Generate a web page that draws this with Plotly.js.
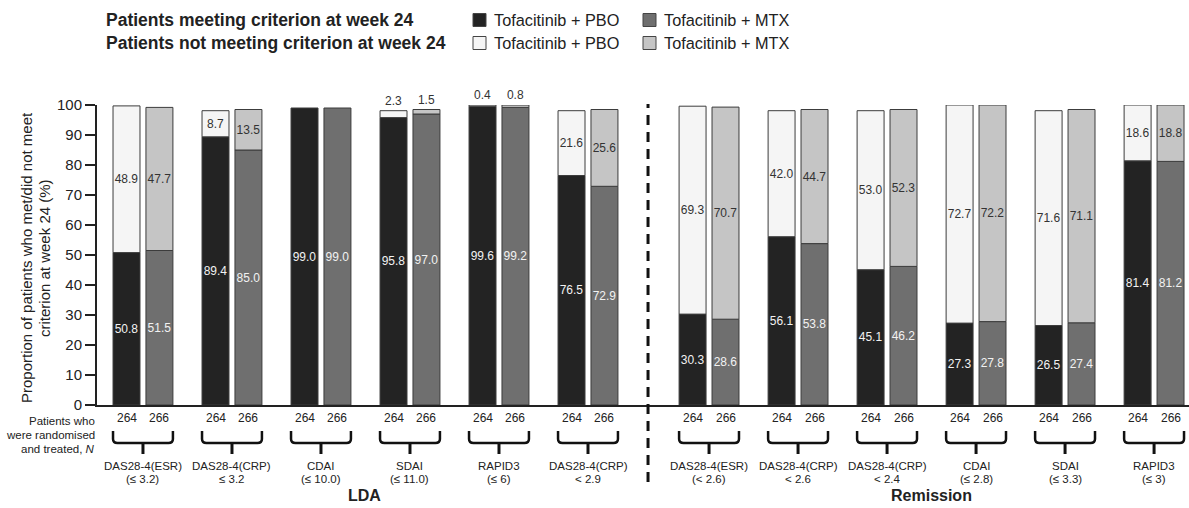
<!DOCTYPE html>
<html><head><meta charset="utf-8">
<script src="https://cdn.plot.ly/plotly-3.0.1.min.js"></script>
<style>html,body{margin:0;padding:0;background:#fff;}#chart{width:1189px;height:508px;}</style>
</head><body><div id="chart"></div>
<script>
// ---- data ----
const sections   = ['LDA','LDA','LDA','LDA','LDA','LDA','Remission','Remission','Remission','Remission','Remission','Remission'];
const criteria   = ['DAS28-4(ESR)','DAS28-4(CRP)','CDAI','SDAI','RAPID3','DAS28-4(CRP)','DAS28-4(ESR)','DAS28-4(CRP)','DAS28-4(CRP)','CDAI','SDAI','RAPID3'];
const thresholds = ['(≤ 3.2)','≤ 3.2','(≤ 10.0)','(≤ 11.0)','(≤ 6)','< 2.9','(< 2.6)','< 2.6','< 2.4','(≤ 2.8)','(≤ 3.3)','(≤ 3)'];
const pboMet     = [50.8, 89.4, 99.0, 95.8, 99.6, 76.5, 30.3, 56.1, 45.1, 27.3, 26.5, 81.4];
const pboNotMet  = [48.9,  8.7, null,  2.3,  0.4, 21.6, 69.3, 42.0, 53.0, 72.7, 71.6, 18.6];
const mtxMet     = [51.5, 85.0, 99.0, 97.0, 99.2, 72.9, 28.6, 53.8, 46.2, 27.8, 27.4, 81.2];
const mtxNotMet  = [47.7, 13.5, null,  1.5,  0.8, 25.6, 70.7, 44.7, 52.3, 72.2, 71.1, 18.8];
const nPbo       = [264, 264, 264, 264, 264, 264, 264, 264, 264, 264, 264, 264];
const nMtx       = [266, 266, 266, 266, 266, 266, 266, 266, 266, 266, 266, 266];

// ---- layout constants ----
const FONT = 'Liberation Sans, Arial, Helvetica, sans-serif';
const DARK = '#222222';
const C_PBO_MET = '#232323', C_MTX_MET = '#6f6f6f', C_PBO_NOT = '#f5f5f5', C_MTX_NOT = '#c5c5c5';
const SECTION_GAP = 0.36;
const BAR_W = 0.303, OFF_PBO = -0.331, OFF_MTX = 0.039;
const L = 97, R = 1189, T = 105, B = 405;
const px2x = px => (px - L) / (R - L);
const py2y = py => (B - py) / (B - T);

const xpos = sections.map((s, i) => i + (s === 'Remission' ? SECTION_GAP : 0));
const fmt = v => (v == null ? '' : v.toFixed(1));
const posFor = v => (v != null && v < 5 ? 'outside' : 'inside');

function barTrace(y, base, color, off, textColor, positions) {
  const t = {
    type: 'bar', x: xpos, y: y, offset: off, width: BAR_W,
    marker: {color: color, line: {color: '#3c3c3c', width: 1}},
    text: y.map(fmt), textposition: positions || 'inside', insidetextanchor: 'middle',
    textangle: 0, constraintext: 'none', cliponaxis: false,
    insidetextfont: {family: FONT, size: 12, color: textColor},
    outsidetextfont: {family: FONT, size: 12, color: '#333'},
    hoverinfo: 'skip'
  };
  if (base) t.base = base;
  return t;
}

const data = [
  barTrace(pboMet, null, C_PBO_MET, OFF_PBO, '#f2f2f2'),
  barTrace(mtxMet, null, C_MTX_MET, OFF_MTX, '#f2f2f2'),
  barTrace(pboNotMet, pboMet, C_PBO_NOT, OFF_PBO, '#333', pboNotMet.map(posFor)),
  barTrace(mtxNotMet, mtxMet, C_MTX_NOT, OFF_MTX, '#333', mtxNotMet.map(posFor))
];

const shapes = [];
const annotations = [];

// y-axis title (two lines)
annotations.push({xref:'paper', yref:'paper', x:px2x(26), y:py2y(258), text:'Proportion of patients who met/did not meet',
  textangle:-90, showarrow:false, xanchor:'center', yanchor:'middle', font:{family:FONT, size:15, color:DARK}});
annotations.push({xref:'paper', yref:'paper', x:px2x(44), y:py2y(258), text:'criterion at week 24 (%)',
  textangle:-90, showarrow:false, xanchor:'center', yanchor:'middle', font:{family:FONT, size:15, color:DARK}});

// N row label
[['Patients who',421],['were randomised',435],['and treated, <i>N</i>',449]].forEach(([t,py]) => {
  annotations.push({xref:'paper', yref:'paper', x:px2x(97), y:py2y(py), text:t, showarrow:false,
    xanchor:'right', yanchor:'middle', font:{family:FONT, size:11.5, color:DARK}});
});

xpos.forEach((p, i) => {
  const cP = p + OFF_PBO + BAR_W / 2, cM = p + OFF_MTX + BAR_W / 2;
  annotations.push({xref:'x', yref:'paper', x:cP, y:py2y(418), text:String(nPbo[i]), showarrow:false,
    xanchor:'center', yanchor:'middle', font:{family:FONT, size:12, color:DARK}});
  annotations.push({xref:'x', yref:'paper', x:cM, y:py2y(418), text:String(nMtx[i]), showarrow:false,
    xanchor:'center', yanchor:'middle', font:{family:FONT, size:12, color:DARK}});
  const xc = (p + OFF_PBO + p + OFF_MTX + BAR_W) / 2;
  annotations.push({xref:'x', yref:'paper', x:xc, y:py2y(466), text:criteria[i], showarrow:false,
    xanchor:'center', yanchor:'middle', font:{family:FONT, size:11.5, color:DARK}});
  annotations.push({xref:'x', yref:'paper', x:xc, y:py2y(479), text:thresholds[i], showarrow:false,
    xanchor:'center', yanchor:'middle', font:{family:FONT, size:11.5, color:DARK}});
  // bracket
  const xL = p + OFF_PBO, xR = p + OFF_MTX + BAR_W, r = 0.05;
  const yTop = py2y(431), yH = py2y(443), yC = py2y(439), yS = py2y(454);
  shapes.push({type:'path', xref:'x', yref:'paper', line:{color:'#111', width:2.5},
    path:`M ${xL},${yTop} L ${xL},${yC} Q ${xL},${yH} ${xL + r},${yH} L ${xR - r},${yH} Q ${xR},${yH} ${xR},${yC} L ${xR},${yTop}`});
  shapes.push({type:'line', xref:'x', yref:'paper', x0:xc, x1:xc, y0:yH, y1:yS, line:{color:'#111', width:3}});
});

// section labels
['LDA','Remission'].forEach(sec => {
  const ps = xpos.filter((_, i) => sections[i] === sec);
  const mid = ps.reduce((a, b) => a + b, 0) / ps.length;
  annotations.push({xref:'x', yref:'paper', x:mid, y:py2y(496), text:'<b>' + sec + '</b>', showarrow:false,
    xanchor:'center', yanchor:'middle', font:{family:FONT, size:16, color:DARK}});
});

// dashed separator
const firstRem = sections.indexOf('Remission');
const sepX = (xpos[firstRem - 1] + xpos[firstRem]) / 2;
shapes.push({type:'line', xref:'x', yref:'paper', x0:sepX, x1:sepX, y0:py2y(482), y1:py2y(104),
  line:{color:'#111', width:3, dash:'10px,7px'}});

// custom legend
const legendRows = [
  {title:'Patients meeting criterion at week 24', py:20, colors:[C_PBO_MET, C_MTX_MET]},
  {title:'Patients not meeting criterion at week 24', py:43, colors:[C_PBO_NOT, C_MTX_NOT]}
];
const legendLabels = ['Tofacitinib + PBO', 'Tofacitinib + MTX'];
const sqX = [473, 643], txX = [492, 662];
legendRows.forEach(row => {
  annotations.push({xref:'paper', yref:'paper', x:px2x(104), y:py2y(row.py), text:'<b>' + row.title + '</b>', showarrow:false,
    xanchor:'left', yanchor:'middle', font:{family:FONT, size:17.5, color:DARK}});
  row.colors.forEach((c, j) => {
    shapes.push({type:'rect', xref:'paper', yref:'paper', x0:px2x(sqX[j]), x1:px2x(sqX[j] + 13),
      y0:py2y(row.py + 6.5), y1:py2y(row.py - 6.5), fillcolor:c, line:{color:'#444', width:1}});
    annotations.push({xref:'paper', yref:'paper', x:px2x(txX[j]), y:py2y(row.py), text:legendLabels[j], showarrow:false,
      xanchor:'left', yanchor:'middle', font:{family:FONT, size:16.3, color:DARK}});
  });
});

const layout = {
  width: 1189, height: 508,
  margin: {l: L, r: 1189 - R, t: T, b: 508 - B},
  paper_bgcolor: '#fff', plot_bgcolor: '#fff',
  barmode: 'overlay', showlegend: false,
  font: {family: FONT, color: DARK},
  xaxis: {range: [-0.511, 11.758], showline: true, linecolor: DARK, linewidth: 2, showticklabels: false,
    ticks: '', showgrid: false, zeroline: false, fixedrange: true},
  yaxis: {range: [0, 100], dtick: 10, ticks: 'outside', ticklen: 10, tickwidth: 2, tickcolor: DARK,
    showline: true, linewidth: 2, linecolor: DARK, tickfont: {family: FONT, size: 15, color: DARK},
    showgrid: false, zeroline: false, fixedrange: true},
  shapes: shapes, annotations: annotations
};

Plotly.newPlot('chart', data, layout, {displayModeBar: false, staticPlot: true});
</script>
</body></html>
